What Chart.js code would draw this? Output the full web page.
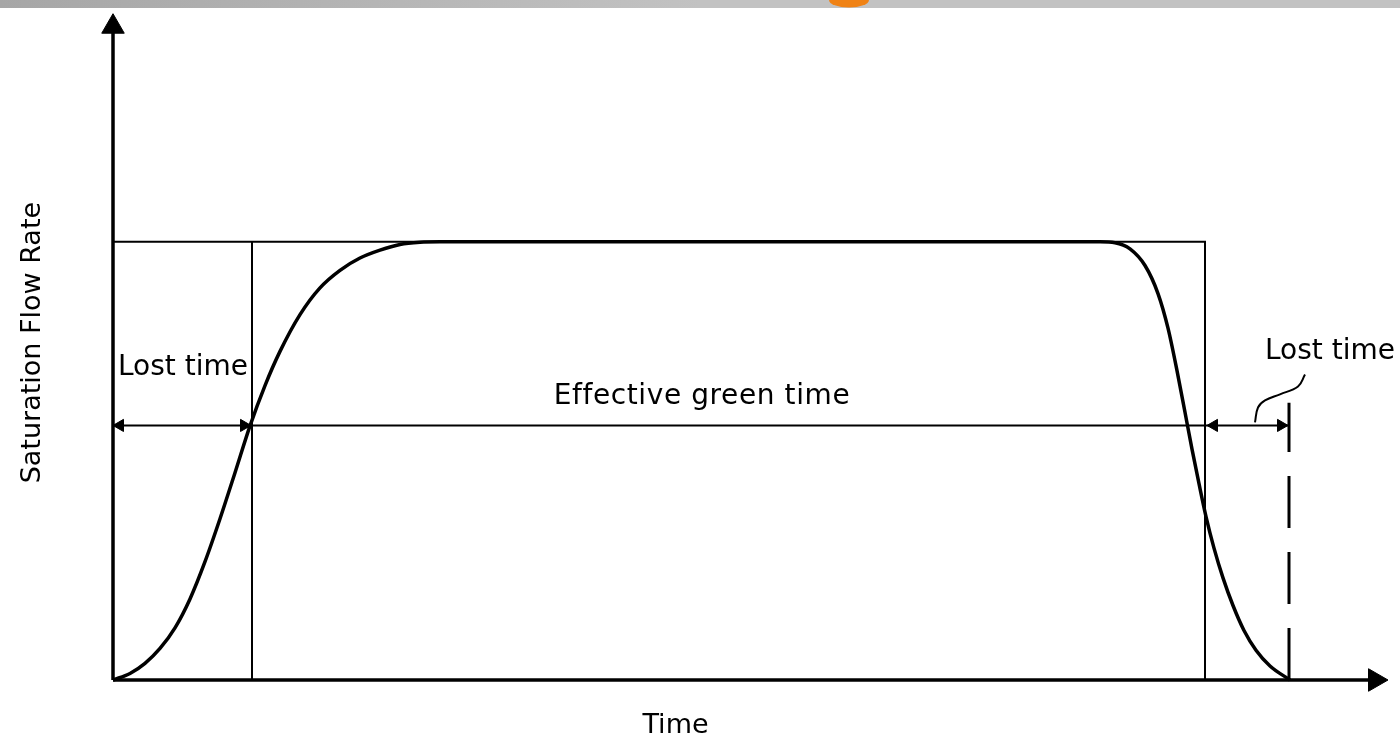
<!DOCTYPE html>
<html><head><meta charset="utf-8">
<script src="https://cdn.jsdelivr.net/npm/chart.js@4/dist/chart.umd.min.js"></script>
<style>html,body{margin:0;padding:0;background:#fff;overflow:hidden}canvas{display:block}</style>
</head><body><canvas id="c" width="1400" height="737"></canvas>
<script>
// ---- data (time units on x, saturation flow relative to s on y) ----
const curveTime = [0, 1.7, 3.2, 4.7, 6.2, 7.7, 9.2, 10.7, 12.2, 13.7, 15.2, 16.7, 18.7, 20.7, 22.7, 24.7, 26.7, 28.7, 30.7, 32.7,
  98.7, 100.2, 101.7, 103.2, 104.5, 105.5, 106.4, 107.2, 107.9, 108.6, 109.3, 110.1, 111.0, 112.0, 113.1, 114.3, 115.7, 117.7];
const curveFlow = [0, 0.015, 0.038, 0.072, 0.119, 0.185, 0.270, 0.368, 0.473, 0.580, 0.672, 0.750, 0.834, 0.895, 0.935, 0.963, 0.981, 0.994, 0.999, 1.0,
  1.0, 0.998, 0.984, 0.946, 0.882, 0.803, 0.706, 0.611, 0.527, 0.448, 0.373, 0.301, 0.233, 0.170, 0.113, 0.068, 0.032, 0];
const saturationFlow = 1.0;
const greenStart = 13.9;      // start of effective green
const greenEnd = 109.2;       // end of displayed green
const effectiveLevel = 0.581; // level of the dimension line
const lostTimeEnd = 117.6;    // end of the second lost time
const dashTop = 0.633;
const leaderTime = [114.2, 114.5, 115.2, 116.7, 118.5, 119.2];
const leaderFlow = [0.588, 0.622, 0.638, 0.652, 0.670, 0.697];
const axisMaxTime = 127;
const axisMaxFlow = 1.52;
const axisArrowTime = 126.2;
const axisArrowFlow = 1.491;
const labelTexts = ['Lost time', 'Effective green time', 'Lost time', 'Time', 'Saturation Flow Rate'];

// ---- build ----
const pts = (xs, ys) => xs.map((x, i) => ({x, y: ys[i]}));
const black = '#000';

const decor = {
  id: 'decor',
  beforeDraw(chart) {
    const ctx = chart.ctx;
    ctx.save();
    const g = ctx.createLinearGradient(0, 0, 700, 0);
    g.addColorStop(0, '#a6a6a6');
    g.addColorStop(1, '#c2c2c2');
    ctx.fillStyle = g;
    ctx.fillRect(0, 0, chart.width, 8);
    ctx.fillStyle = '#f08214';
    ctx.beginPath();
    ctx.ellipse(849, 0, 20, 7.5, 0, 0, Math.PI);
    ctx.fill();
    ctx.restore();
  }
};

const labelsPlugin = {
  id: 'labelsPlugin',
  afterDatasetsDraw(chart) {
    const ctx = chart.ctx, xs = chart.scales.x, ys = chart.scales.y;
    ctx.save();
    ctx.fillStyle = '#000';
    ctx.textBaseline = 'alphabetic';
    ctx.font = '28px "DejaVu Sans"';
    ctx.textAlign = 'left';
    ctx.fillText(labelTexts[0], xs.getPixelForValue(0.5), ys.getPixelForValue(0.695));
    ctx.textAlign = 'center';
    try { ctx.letterSpacing = '0.6px'; } catch (e) {}
    ctx.fillText(labelTexts[1], xs.getPixelForValue(58.9), ys.getPixelForValue(0.629));
    try { ctx.letterSpacing = '0px'; } catch (e) {}
    ctx.textAlign = 'left';
    ctx.fillText(labelTexts[2], xs.getPixelForValue(115.2), ys.getPixelForValue(0.733));
    ctx.font = '27px "DejaVu Sans"';
    ctx.textAlign = 'center';
    ctx.fillText(labelTexts[3], xs.getPixelForValue(56.25), 733);
    ctx.translate(40, ys.getPixelForValue(0.77));
    ctx.rotate(-Math.PI / 2);
    ctx.fillText(labelTexts[4], 0, 0);
    ctx.restore();
  }
};

new Chart(document.getElementById('c'), {
  type: 'line',
  data: {
    datasets: [
      { // x axis with arrow
        data: [{x: 0, y: 0}, {x: axisArrowTime, y: 0}],
        borderColor: black, borderWidth: 3.5,
        pointRadius: [0, 13], pointStyle: 'triangle', rotation: 90,
        pointBackgroundColor: black, pointBorderColor: black, pointBorderWidth: 1
      },
      { // y axis with arrow
        data: [{x: 0, y: 0}, {x: 0, y: axisArrowFlow}],
        borderColor: black, borderWidth: 3.5,
        pointRadius: [0, 13], pointStyle: 'triangle', rotation: 0,
        pointBackgroundColor: black, pointBorderColor: black, pointBorderWidth: 1
      },
      { // saturation rectangle
        data: [{x: 0, y: saturationFlow}, {x: greenEnd, y: saturationFlow}, {x: greenEnd, y: 0}],
        borderColor: black, borderWidth: 2, pointRadius: 0
      },
      { // start of effective green
        data: [{x: greenStart, y: 0}, {x: greenStart, y: saturationFlow}],
        borderColor: black, borderWidth: 2, pointRadius: 0
      },
      { // dimension line
        data: [{x: 0, y: effectiveLevel}, {x: lostTimeEnd, y: effectiveLevel}],
        borderColor: black, borderWidth: 2, pointRadius: 0
      },
      { // dimension arrows
        data: [{x: 0.7, y: effectiveLevel}, {x: 13.1, y: effectiveLevel}, {x: 110.1, y: effectiveLevel}, {x: 116.8, y: effectiveLevel}],
        showLine: false, pointStyle: 'triangle', pointRadius: 7,
        rotation: [270, 90, 270, 90],
        pointBackgroundColor: black, pointBorderColor: black, pointBorderWidth: 1
      },
      { // end of lost time (dashed)
        data: [{x: lostTimeEnd, y: 0}, {x: lostTimeEnd, y: dashTop}],
        borderColor: black, borderWidth: 3, borderDash: [52, 24], pointRadius: 0
      },
      { // flow curve
        data: pts(curveTime, curveFlow),
        borderColor: black, borderWidth: 3.5, pointRadius: 0,
        cubicInterpolationMode: 'monotone'
      },
      { // leader line
        data: pts(leaderTime, leaderFlow),
        borderColor: black, borderWidth: 2, pointRadius: 0, tension: 0.4
      }
    ]
  },
  options: {
    responsive: false,
    animation: false,
    clip: false,
    layout: {padding: {left: 113, right: 17, top: 8, bottom: 57}},
    datasets: {line: {clip: false}},
    plugins: {legend: {display: false}, tooltip: {enabled: false}},
    scales: {
      x: {type: 'linear', min: 0, max: axisMaxTime, display: false},
      y: {type: 'linear', min: 0, max: axisMaxFlow, display: false}
    }
  },
  plugins: [decor, labelsPlugin]
});
</script>
</body></html>
